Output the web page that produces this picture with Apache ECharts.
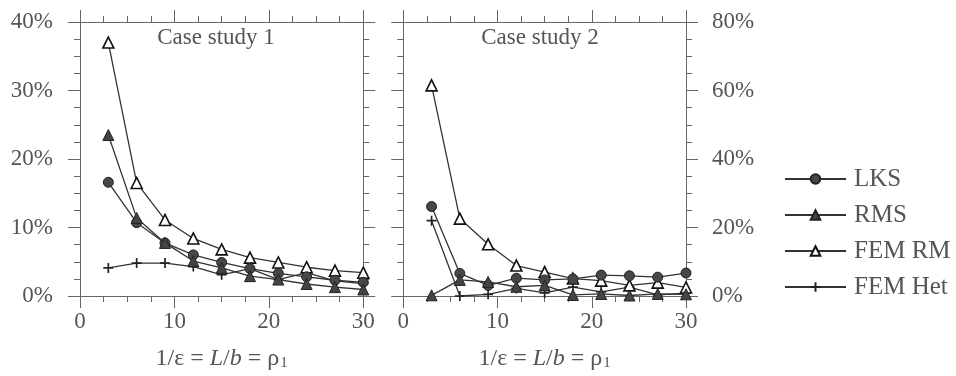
<!DOCTYPE html>
<html>
<head>
<meta charset="utf-8">
<script src="https://cdn.jsdelivr.net/npm/echarts@6/dist/echarts.min.js"></script>
<style>html,body{margin:0;padding:0;background:#fff}#c{width:956px;height:376px}</style>
</head>
<body>
<div id="c"></div>
<script>
const xValues = [3, 6, 9, 12, 15, 18, 21, 24, 27, 30];
const xTicks = [0, 10, 20, 30];
const yTicksLeft = ['0%', '10%', '20%', '30%', '40%'];
const yTicksRight = ['0%', '20%', '40%', '60%', '80%'];
const seriesNames = ['LKS', 'RMS', 'FEM RM', 'FEM Het'];
const panelTitles = ['Case study 1', 'Case study 2'];

// Case study 1 (percent)
const cs1_LKS    = [16.6, 10.7, 7.75, 6.0, 4.9, 4.0, 3.3, 2.8, 2.3, 2.0];
const cs1_RMS    = [23.5, 11.4, 7.75, 5.1, 4.1, 2.9, 2.4, 1.75, 1.3, 0.95];
const cs1_FEMRM  = [37.0, 16.5, 11.1, 8.4, 6.8, 5.6, 4.9, 4.2, 3.7, 3.4];
const cs1_FEMHet = [4.1, 4.8, 4.8, 4.3, 3.1, 4.0, 2.4, 3.4, 2.2, 1.8];

// Case study 2 (percent)
const cs2_LKS    = [26.1, 6.6, 3.1, 5.2, 4.7, 5.0, 6.1, 5.9, 5.5, 6.7];
const cs2_RMS    = [0.2, 4.7, 4.1, 2.7, 3.1, 0.3, 0.6, 0.15, 0.6, 0.5];
const cs2_FEMRM  = [61.5, 22.6, 15.1, 8.9, 7.0, 5.1, 4.5, 3.1, 3.9, 2.5];
const cs2_FEMHet = [22.0, 0.0, 0.5, 2.2, 0.9, 2.6, 1.2, 2.6, 0.3, 0.8];

const FONT = '"Liberation Serif", "Times New Roman", serif';
const TXT = '#555';
const AX = '#666';
const LINE = '#333';

function pairs(vals) { return xValues.map((x, i) => [x, vals[i]]); }

const plusPath = 'path://M5,0L5,10M0,5L10,5';
const styles = {
  'LKS':    { symbol: 'circle',   symbolSize: 10, itemStyle: { color: '#474747', borderColor: '#222', borderWidth: 1 } },
  'RMS':    { symbol: 'triangle', symbolSize: 11, itemStyle: { color: '#444', borderColor: '#222', borderWidth: 1 } },
  'FEM RM': { symbol: 'triangle', symbolSize: 11, itemStyle: { color: '#fff', borderColor: '#111', borderWidth: 1.6 } },
  'FEM Het':{ symbol: plusPath,   symbolSize: 10, itemStyle: { color: 'none', borderColor: '#222', borderWidth: 1.7 } }
};

function mkSeries(name, vals, ai, z) {
  const s = styles[name];
  return {
    type: 'line', name: name, xAxisIndex: ai, yAxisIndex: ai, data: pairs(vals),
    symbol: s.symbol, symbolSize: s.symbolSize, showAllSymbol: true,
    lineStyle: { color: LINE, width: 1.3 }, itemStyle: s.itemStyle, z: z,
    emphasis: { disabled: true }
  };
}

const grids = [
  { left: 80, top: 22, width: 283.3, height: 282.3 },
  { left: 403.3, top: 22, width: 282.7, height: 282.3 }
];

function axisBase(showLabel) {
  return {
    axisLine: { show: true, onZero: false, lineStyle: { color: AX, width: 1 } },
    axisTick: { show: true, inside: false, length: 12, lineStyle: { color: AX, width: 1 } },
    minorTick: { show: true, splitNumber: 4, length: 6, lineStyle: { color: AX, width: 1 } },
    splitLine: { show: false },
    axisLabel: { show: showLabel, color: TXT, fontFamily: FONT, fontSize: 23 }
  };
}

const xName = '1/ε = {i|L}/{i|b} = ρ{s|1}';
const nameStyle = {
  color: TXT, fontFamily: FONT, fontSize: 24,
  rich: {
    i: { fontStyle: 'italic', fontFamily: FONT, fontSize: 24, color: TXT },
    s: { fontFamily: FONT, fontSize: 15, color: TXT, verticalAlign: 'bottom', padding: [8, 0, 0, 1] }
  }
};

const xAxes = [];
const yAxes = [];
[0, 1].forEach(g => {
  const bottom = Object.assign(axisBase(true), {
    type: 'value', gridIndex: g, position: 'bottom', min: 0, max: 30, interval: 10,
    name: xName, nameLocation: 'middle', nameGap: 51, nameTextStyle: nameStyle
  });
  bottom.axisLabel.margin = 14;
  bottom.axisLabel.formatter = v => xTicks.includes(v) ? String(v) : '';
  xAxes.push(bottom);
});
[0, 1].forEach(g => {
  xAxes.push(Object.assign(axisBase(false), {
    type: 'value', gridIndex: g, position: 'top', min: 0, max: 30, interval: 10
  }));
});
const yL = Object.assign(axisBase(true), { type: 'value', gridIndex: 0, position: 'left', min: 0, max: 40, interval: 10 });
yL.axisLabel.margin = 27;
yL.axisLabel.formatter = v => yTicksLeft[v / 10];
const yR = Object.assign(axisBase(true), { type: 'value', gridIndex: 1, position: 'right', min: 0, max: 80, interval: 20 });
yR.axisLabel.margin = 26;
yR.axisLabel.formatter = v => yTicksRight[v / 20];
yAxes.push(yL, yR);
yAxes.push(Object.assign(axisBase(false), { type: 'value', gridIndex: 0, position: 'right', min: 0, max: 40, interval: 10 }));
yAxes.push(Object.assign(axisBase(false), { type: 'value', gridIndex: 1, position: 'left', min: 0, max: 80, interval: 20 }));

const series = [
  mkSeries('FEM Het', cs1_FEMHet, 0, 2),
  mkSeries('FEM RM', cs1_FEMRM, 0, 3),
  mkSeries('LKS', cs1_LKS, 0, 4),
  mkSeries('RMS', cs1_RMS, 0, 5),
  mkSeries('FEM Het', cs2_FEMHet, 1, 2),
  mkSeries('FEM RM', cs2_FEMRM, 1, 3),
  mkSeries('LKS', cs2_LKS, 1, 4),
  mkSeries('RMS', cs2_RMS, 1, 5)
];

const chart = echarts.init(document.getElementById('c'), null, { renderer: 'canvas' });
chart.setOption({
  animation: false,
  backgroundColor: '#fff',
  grid: grids,
  xAxis: xAxes,
  yAxis: yAxes,
  series: series,
  legend: {
    data: seriesNames, orient: 'vertical', left: 779, top: 161.5,
    itemWidth: 61, itemHeight: 12, itemGap: 11,
    textStyle: { color: TXT, fontFamily: FONT, fontSize: 25, padding: [0, 0, 0, 3] },
    selectedMode: false
  },
  graphic: [
    { type: 'text', x: 216, y: 26, style: { text: panelTitles[0], font: '23px ' + FONT, fill: TXT, textAlign: 'center', textVerticalAlign: 'top' } },
    { type: 'text', x: 540, y: 26, style: { text: panelTitles[1], font: '23px ' + FONT, fill: TXT, textAlign: 'center', textVerticalAlign: 'top' } }
  ]
});
</script>
</body>
</html>
